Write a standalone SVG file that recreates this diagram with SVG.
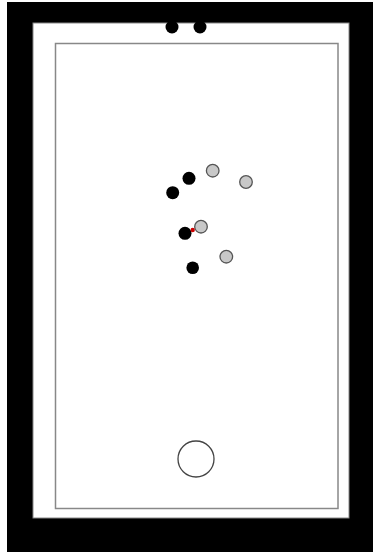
<svg xmlns="http://www.w3.org/2000/svg" width="373" height="553" viewBox="0 0 373 553">
<style>
.b{fill:#000}
.g{fill:#c8c8c8;stroke:#555;stroke-width:1.3}
</style>
<rect width="373" height="553" fill="#fff"/>
<rect x="7" y="2" width="366" height="550" fill="#000"/>
<rect x="33" y="23" width="316" height="495" fill="#fff" stroke="#888" stroke-width="1"/>
<rect x="55.5" y="43.5" width="282.5" height="465" fill="#fff" stroke="#888" stroke-width="1.5"/>
<g id="top-dots">
<circle class="b" cx="172" cy="27" r="6.5"/>
<circle class="b" cx="200" cy="27" r="6.5"/>
</g>
<g id="pieces">
<circle class="g" cx="212.7" cy="170.7" r="6.3"/>
<circle class="g" cx="246" cy="182" r="6.3"/>
<circle class="b" cx="189" cy="178.3" r="6.5"/>
<circle class="b" cx="172.7" cy="192.7" r="6.5"/>
<circle class="g" cx="201" cy="226.7" r="6.3"/>
<circle class="b" cx="185" cy="233.3" r="6.5"/>
<circle cx="192.7" cy="230" r="2.2" fill="#c00"/>
<circle class="g" cx="226.3" cy="256.7" r="6.3"/>
<circle class="b" cx="192.7" cy="267.7" r="6.3"/>
</g>
<g id="ring">
<circle cx="196" cy="459" r="18" fill="#fff" stroke="#444" stroke-width="1.3"/>
</g>
</svg>
